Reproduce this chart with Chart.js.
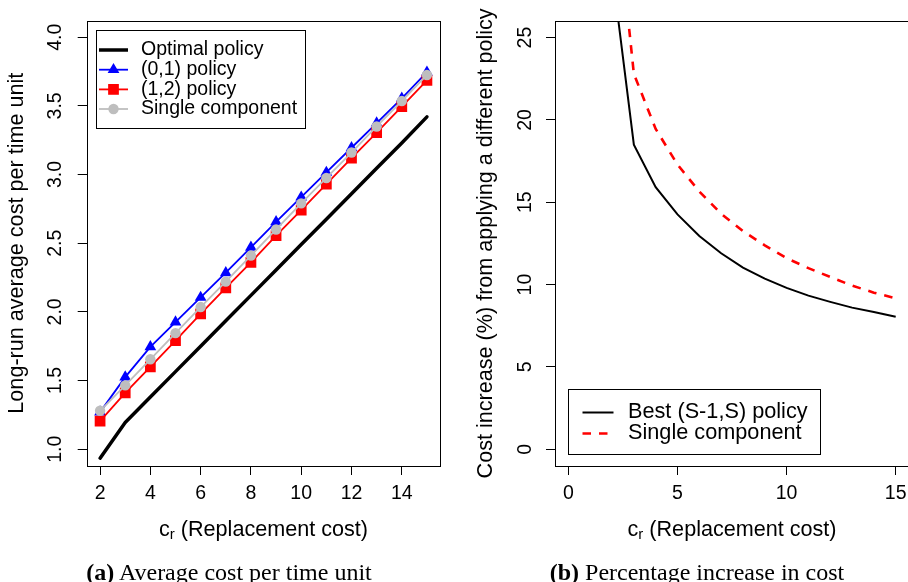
<!DOCTYPE html>
<html><head><meta charset="utf-8">
<script src="https://cdn.jsdelivr.net/npm/chart.js@4/dist/chart.umd.min.js"></script>
<style>
html,body{margin:0;padding:0;background:#fff;overflow:hidden;}
#wrap{position:relative;width:908px;height:582px;overflow:hidden;background:#fff;}
#c1{position:absolute;left:0;top:0;}
#c2{position:absolute;left:454px;top:0;}
.cap{position:absolute;top:560px;font-family:'Liberation Serif','Times New Roman',serif;font-size:24px;line-height:24px;white-space:nowrap;text-align:center;color:#000;width:400px;}
</style></head>
<body>
<div id="wrap">
<canvas id="c1" width="454" height="582"></canvas>
<canvas id="c2" width="460" height="582"></canvas>
<div class="cap" style="left:29px"><b>(a)</b> Average cost per time unit</div>
<div class="cap" style="left:497px"><b>(b)</b> Percentage increase in cost</div>
</div>
<script>
// ---------- data (panel a) ----------
const costA = [2, 3, 4, 5, 6, 7, 8, 9, 10, 11, 12, 13, 14, 15];
const optimalPolicy = [0.935, 1.195, 1.38, 1.565, 1.75, 1.935, 2.12, 2.305, 2.49, 2.675, 2.86, 3.045, 3.23, 3.42];
const policy01 = [1.27, 1.525, 1.745, 1.925, 2.105, 2.285, 2.47, 2.655, 2.835, 3.015, 3.195, 3.375, 3.555, 3.745];
const policy12 = [1.205, 1.41, 1.60, 1.79, 1.985, 2.175, 2.36, 2.555, 2.74, 2.93, 3.12, 3.305, 3.495, 3.685];
const singleA = [1.28, 1.465, 1.655, 1.845, 2.035, 2.22, 2.41, 2.60, 2.79, 2.975, 3.16, 3.35, 3.535, 3.725];
const xTicksA = [2, 4, 6, 8, 10, 12, 14];
const yTicksA = [1.0, 1.5, 2.0, 2.5, 3.0, 3.5, 4.0];
const yTickLabelsA = ['1.0', '1.5', '2.0', '2.5', '3.0', '3.5', '4.0'];
// ---------- data (panel b) ----------
const costB = [2, 3, 4, 5, 6, 7, 8, 9, 10, 11, 12, 13, 14, 15];
const bestS1S = [29.1, 18.5, 15.92, 14.26, 12.95, 11.9, 11.03, 10.36, 9.8, 9.33, 8.95, 8.6, 8.34, 8.04];
const singleB = [35.5, 22.8, 19.45, 17.29, 15.65, 14.3, 13.25, 12.38, 11.6, 11.0, 10.46, 9.94, 9.51, 9.17];
const xTicksB = [0, 5, 10, 15];
const yTicksB = [0, 5, 10, 15, 20, 25];
const yTickLabelsB = ['0', '5', '10', '15', '20', '25'];

const SANS = "'Liberation Sans', Arial, Helvetica, sans-serif";
const pts = (xs, ys) => xs.map((x, i) => ({x: x, y: ys[i]}));

function boxPlugin() {
  return {
    id: 'box',
    afterDraw(chart) {
      const {ctx, chartArea: a} = chart;
      ctx.save();
      ctx.strokeStyle = '#000';
      ctx.lineWidth = 1;
      ctx.strokeRect(Math.round(a.left) + 0.5, Math.round(a.top) + 0.5,
                     Math.round(a.right - a.left), Math.round(a.bottom - a.top));
      ctx.restore();
    }
  };
}

function xTitlePlugin(baseline) {
  return {
    id: 'xtitle',
    afterDraw(chart) {
      const {ctx, chartArea: a} = chart;
      ctx.save();
      ctx.fillStyle = '#000';
      ctx.textBaseline = 'alphabetic';
      ctx.textAlign = 'left';
      const big = '21.6px ' + SANS, small = '15px ' + SANS;
      ctx.font = big; const w1 = ctx.measureText('c').width;
      const rest = ' (Replacement cost)'; const w3 = ctx.measureText(rest).width;
      ctx.font = small; const w2 = ctx.measureText('r').width;
      const total = w1 + w2 + w3;
      let x = (a.left + a.right) / 2 - total / 2;
      ctx.font = big; ctx.fillText('c', x, baseline); x += w1;
      ctx.font = small; ctx.fillText('r', x, baseline + 3); x += w2;
      ctx.font = big; ctx.fillText(rest, x, baseline);
      ctx.restore();
    }
  };
}

function drawMarker(ctx, style, x, y, r, color) {
  ctx.fillStyle = color;
  ctx.beginPath();
  if (style === 'triangle') {
    ctx.moveTo(x, y - r);
    ctx.lineTo(x + r * Math.sin(2 * Math.PI / 3), y - r * Math.cos(2 * Math.PI / 3));
    ctx.lineTo(x + r * Math.sin(4 * Math.PI / 3), y - r * Math.cos(4 * Math.PI / 3));
    ctx.closePath();
  } else if (style === 'rect') {
    const s = Math.SQRT1_2 * r;
    ctx.rect(x - s, y - s, 2 * s, 2 * s);
  } else if (style === 'circle') {
    ctx.arc(x, y, r, 0, Math.PI * 2);
  } else return;
  ctx.fill();
}

function legendPlugin(cfg) {
  return {
    id: 'customLegend',
    afterDraw(chart) {
      const ctx = chart.ctx;
      ctx.save();
      ctx.fillStyle = '#fff';
      ctx.fillRect(cfg.box[0], cfg.box[1], cfg.box[2] - cfg.box[0], cfg.box[3] - cfg.box[1]);
      ctx.strokeStyle = '#000'; ctx.lineWidth = 1;
      ctx.strokeRect(cfg.box[0] + 0.5, cfg.box[1] + 0.5, cfg.box[2] - cfg.box[0], cfg.box[3] - cfg.box[1]);
      const order = cfg.order;
      order.forEach((di, k) => {
        const ds = chart.data.datasets[di];
        const y = cfg.rows[k];
        ctx.strokeStyle = ds.borderColor;
        ctx.lineWidth = cfg.lw[k];
        ctx.setLineDash(ds.borderDash || []);
        ctx.beginPath(); ctx.moveTo(cfg.x0, y); ctx.lineTo(cfg.x1, y); ctx.stroke();
        ctx.setLineDash([]);
        if (ds.pointRadius > 0) drawMarker(ctx, ds.pointStyle, (cfg.x0 + cfg.x1) / 2, y, ds.pointRadius, ds.pointBackgroundColor);
        ctx.fillStyle = '#000';
        ctx.font = cfg.font + 'px ' + SANS;
        ctx.textBaseline = 'middle'; ctx.textAlign = 'left';
        ctx.fillText(ds.label, cfg.tx, y);
      });
      ctx.restore();
    }
  };
}

function fixedTicks(values) {
  return s => { s.ticks = values.map(v => ({value: v})); };
}

// ---------- panel a ----------
new Chart(document.getElementById('c1'), {
  type: 'line',
  data: { datasets: [
    {label: 'Optimal policy', data: pts(costA, optimalPolicy), borderColor: '#000', borderWidth: 3.5,
     pointRadius: 0, order: 3, borderJoinStyle: 'round', borderCapStyle: 'round'},
    {label: '(0,1) policy', data: pts(costA, policy01), borderColor: '#0000ff', borderWidth: 1.8,
     pointStyle: 'triangle', pointRadius: 6.8, pointBackgroundColor: '#0000ff', pointBorderWidth: 0, order: 2},
    {label: '(1,2) policy', data: pts(costA, policy12), borderColor: '#ff0000', borderWidth: 1.8,
     pointStyle: 'rect', pointRadius: 7.6, pointBackgroundColor: '#ff0000', pointBorderWidth: 0, order: 1},
    {label: 'Single component', data: pts(costA, singleA), borderColor: '#bebebe', borderWidth: 1.8,
     pointStyle: 'circle', pointRadius: 5.2, pointBackgroundColor: '#bebebe', pointBorderWidth: 0, order: 0}
  ]},
  options: {
    responsive: false, animation: false, devicePixelRatio: 1,
    layout: {padding: {top: 20.7, right: 14, left: 0, bottom: 0}},
    plugins: {legend: {display: false}, tooltip: {enabled: false}},
    scales: {
      x: {type: 'linear', min: 1.48, max: 15.52,
          afterBuildTicks: fixedTicks(xTicksA),
          afterFit: s => { s.height = 116.3; },
          grid: {drawOnChartArea: false, drawTicks: true, tickLength: 9.3, color: '#000', lineWidth: 1},
          border: {display: false},
          ticks: {font: {family: SANS, size: 19.5}, color: '#000', padding: 6.8, maxRotation: 0, autoSkip: false}},
      y: {type: 'linear', min: 0.88, max: 4.12,
          afterBuildTicks: fixedTicks(yTicksA),
          afterFit: s => { s.width = 87; },
          grid: {drawOnChartArea: false, drawTicks: true, tickLength: 9.3, color: '#000', lineWidth: 1},
          border: {display: false},
          ticks: {font: {family: SANS, size: 19.5}, color: '#000', padding: 8.3, minRotation: 90, maxRotation: 90,
                  crossAlign: 'center', autoSkip: false, callback: (v, i) => yTickLabelsA[i]},
          title: {display: true, text: 'Long-run average cost per time unit', color: '#000',
                  font: {family: SANS, size: 21.6}, padding: {top: 4.5, bottom: 0}}}
    }
  },
  plugins: [boxPlugin(), xTitlePlugin(536),
    legendPlugin({box: [96, 30, 305, 128], order: [0, 1, 2, 3], rows: [50, 69.7, 89.4, 109],
                  lw: [3.5, 1.8, 1.8, 1.8], x0: 99, x1: 128, tx: 141, font: 19.5})]
});

// ---------- panel b ----------
new Chart(document.getElementById('c2'), {
  type: 'line',
  data: { datasets: [
    {label: 'Best (S-1,S) policy', data: pts(costB, bestS1S), borderColor: '#000', borderWidth: 2,
     pointRadius: 0, clip: 0, order: 1},
    {label: 'Single component', data: pts(costB, singleB), borderColor: '#ff0000', borderWidth: 2.6,
     borderDash: [8.5, 8], pointRadius: 0, clip: 0, order: 0}
  ]},
  options: {
    responsive: false, animation: false, devicePixelRatio: 1,
    layout: {padding: {top: 20.7, right: 5.2, left: 0, bottom: 0}},
    plugins: {legend: {display: false}, tooltip: {enabled: false}},
    scales: {
      x: {type: 'linear', min: -0.6, max: 15.6,
          afterBuildTicks: fixedTicks(xTicksB),
          afterFit: s => { s.height = 116.3; },
          grid: {drawOnChartArea: false, drawTicks: true, tickLength: 9.3, color: '#000', lineWidth: 1},
          border: {display: false},
          ticks: {font: {family: SANS, size: 19.5}, color: '#000', padding: 6.8, maxRotation: 0, autoSkip: false}},
      y: {type: 'linear', min: -1, max: 26,
          afterBuildTicks: fixedTicks(yTicksB),
          afterFit: s => { s.width = 101.3; },
          grid: {drawOnChartArea: false, drawTicks: true, tickLength: 9.3, color: '#000', lineWidth: 1},
          border: {display: false},
          ticks: {font: {family: SANS, size: 19.5}, color: '#000', padding: 9.4, minRotation: 90, maxRotation: 90,
                  crossAlign: 'center', autoSkip: false, callback: (v, i) => yTickLabelsB[i]},
          title: {display: true, text: 'Cost increase (%) from applying a different policy', color: '#000',
                  font: {family: SANS, size: 21.6}, padding: {top: 19.5, bottom: 0}}}
    }
  },
  plugins: [boxPlugin(), xTitlePlugin(536),
    legendPlugin({box: [114, 389, 366, 454], order: [0, 1], rows: [412.5, 433.5],
                  lw: [2, 2.6], x0: 128.5, x1: 159.5, tx: 174, font: 21.7})]
});
</script>
</body></html>
